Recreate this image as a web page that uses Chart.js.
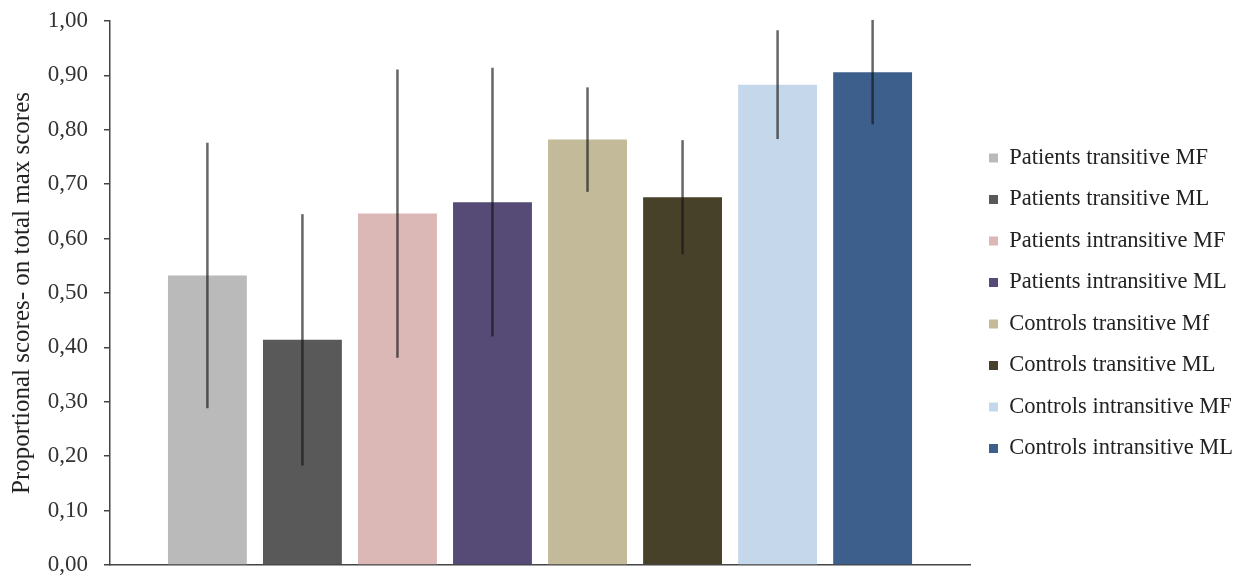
<!DOCTYPE html>
<html>
<head>
<meta charset="utf-8">
<script src="https://cdn.jsdelivr.net/npm/chart.js@4.4.1/dist/chart.umd.min.js"></script>
<style>
  html, body { margin: 0; padding: 0; background: #fff; }
  #wrap { width: 1237px; height: 579px; }
</style>
</head>
<body>
<div id="wrap"><canvas id="myChart"></canvas></div>
<script>
// groups shown as bars, in legend order
const groups = [
    'Patients transitive MF',
    'Patients transitive ML',
    'Patients intransitive MF',
    'Patients intransitive ML',
    'Controls transitive Mf',
    'Controls transitive ML',
    'Controls intransitive MF',
    'Controls intransitive ML'
];
// mean proportional score and the error bar half-length for each group
const means = [0.532, 0.414, 0.646, 0.667, 0.782, 0.676, 0.883, 0.906];
const errors = [0.244, 0.231, 0.265, 0.247, 0.096, 0.105, 0.100, 0.096];

const colors = ['#bababa', '#595959', '#dbb7b6', '#564a77', '#c2ba98', '#474129', '#c5d8eb', '#3c5f8b'];

Chart.defaults.font.family = "'Liberation Serif', 'Times New Roman', serif";
Chart.defaults.color = '#222';

// vertical error lines drawn over each bar
let errorBars = {
    id: 'errorBars',
    afterDatasetsDraw: function (chart) {
        let ctx = chart.ctx;
        let yScale = chart.scales.y;
        ctx.save();
        ctx.strokeStyle = 'rgba(20, 20, 20, 0.65)';
        ctx.lineWidth = 2.5;
        chart.data.datasets.forEach((dataset, i) => {
            let bar = chart.getDatasetMeta(i).data[0];
            let top = yScale.getPixelForValue(means[i] + errors[i]);
            let bottom = yScale.getPixelForValue(means[i] - errors[i]);
            ctx.beginPath();
            ctx.moveTo(bar.x, top);
            ctx.lineTo(bar.x, bottom);
            ctx.stroke();
        });
        ctx.restore();
    }
};

let ctx = document.getElementById('myChart').getContext('2d');

let chart = new Chart(ctx, {
    type: 'bar',
    data: {
        labels: [''],
        datasets: groups.map((name, i) => ({
            label: name,
            data: [means[i]],
            backgroundColor: colors[i],
            borderWidth: 0,
            categoryPercentage: 0.884,
            barPercentage: 0.83
        }))
    },
    options: {
        responsive: true,
        maintainAspectRatio: false,
        animation: false,
        layout: {
            padding: { top: 21, right: -6, bottom: 14, left: 0 }
        },
        plugins: {
            tooltip: { enabled: false },
            legend: {
                position: 'right',
                title: {
                    display: true,
                    text: '',
                    padding: 0,
                    font: { size: 20.5, lineHeight: 1 }
                },
                labels: {
                    boxWidth: 9,
                    boxHeight: 9,
                    padding: 19,
                    color: '#222',
                    font: { size: 22.5 }
                }
            }
        },
        scales: {
            x: {
                grid: { display: false, drawTicks: false },
                border: { display: true, color: '#444', width: 1.5 },
                ticks: { display: false }
            },
            y: {
                min: 0,
                max: 1,
                afterFit: function (scale) {
                    // fixed axis width, and no extra room above/below for the end labels
                    scale.width = 110;
                    scale.paddingTop = 0;
                    scale.paddingBottom = 0;
                },
                ticks: {
                    stepSize: 0.1,
                    padding: 16,
                    color: '#333',
                    font: { size: 23 },
                    callback: (value) => value.toFixed(2).replace('.', ',')
                },
                grid: {
                    drawOnChartArea: false,
                    drawTicks: true,
                    tickLength: 6,
                    tickColor: '#444',
                    lineWidth: 1.5
                },
                border: { display: true, color: '#444', width: 1.5 },
                title: {
                    display: true,
                    text: 'Proportional scores- on total max scores',
                    color: '#222',
                    padding: { top: 7, bottom: 4 },
                    font: { size: 25 }
                }
            }
        }
    },
    plugins: [errorBars]
});
</script>
</body>
</html>
